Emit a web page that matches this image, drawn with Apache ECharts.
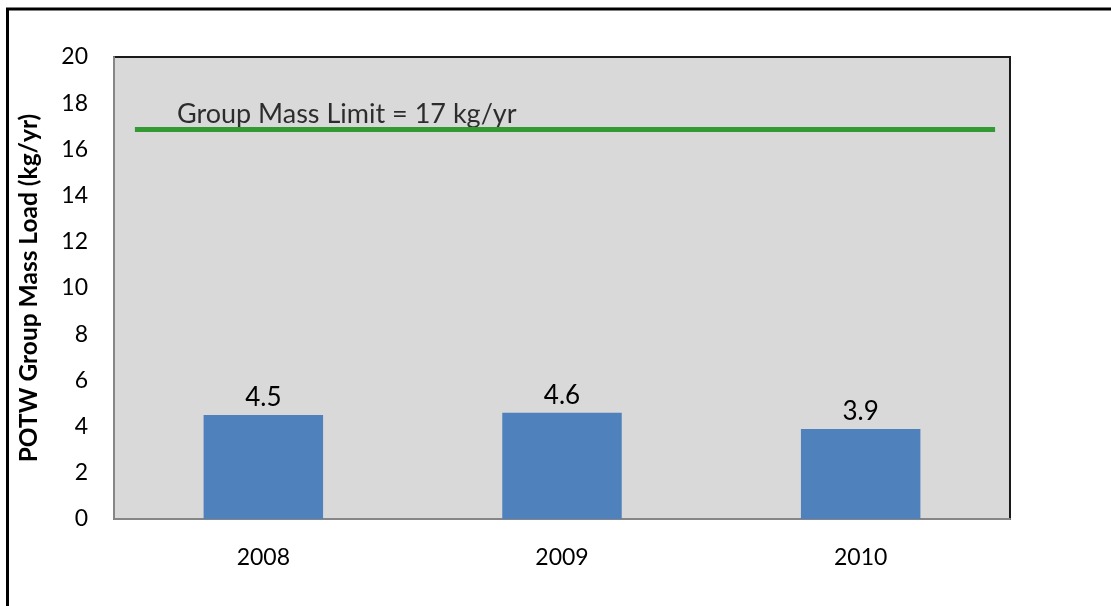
<!DOCTYPE html>
<html>
<head>
<meta charset="utf-8">
<script src="https://cdn.jsdelivr.net/npm/echarts@6/dist/echarts.min.js"></script>
<style>
html,body{margin:0;padding:0;background:#fff;}
#chart{width:1111px;height:606px;}
</style>
</head>
<body>
<div id="chart"></div>
<script>
const categories = ['2008', '2009', '2010'];
const loads = [4.5, 4.6, 3.9];
const limitValue = 16.86;
const limitSpan = [0.57, 3.45];
const limitLabel = 'Group Mass Limit = 17 kg/yr';
const yAxisName = 'POTW Group Mass Load (kg/yr)';

const FONT = 'Lato, "Open Sans", sans-serif';
const chart = echarts.init(document.getElementById('chart'));
chart.setOption({
  animation: false,
  backgroundColor: '#ffffff',
  graphic: [{
    type: 'rect', silent: true, z: 100,
    shape: { x: 7.5, y: 9, width: 1200, height: 700 },
    style: { fill: 'none', stroke: '#000', lineWidth: 3 }
  }],
  grid: {
    left: 114, top: 57, right: 101, bottom: 87,
    show: true, backgroundColor: '#d9d9d9',
    borderColor: '#1a1a1a', borderWidth: 2
  },
  xAxis: [{
    type: 'category', data: categories,
    axisLine: { lineStyle: { color: '#868686', width: 2 } },
    axisTick: { show: false },
    axisLabel: { color: '#000', fontFamily: FONT, fontSize: 23, margin: 27 },
    splitLine: { show: false }
  }, {
    type: 'value', min: 0.5, max: 3.5, show: false
  }],
  yAxis: {
    type: 'value', min: 0, max: 20, interval: 2,
    name: yAxisName, nameLocation: 'middle', nameGap: 72,
    nameTextStyle: { color: '#000', fontFamily: FONT, fontSize: 24.5, fontWeight: 'bold' },
    axisLine: { show: true, lineStyle: { color: '#868686', width: 2 } },
    axisTick: { show: false },
    axisLabel: { color: '#000', fontFamily: FONT, fontSize: 23, margin: 26 },
    splitLine: { show: false }
  },
  series: [{
    type: 'bar', data: loads, barWidth: '40%',
    itemStyle: { color: '#4f81bd' },
    label: { show: true, position: 'top', distance: 4, color: '#000', fontFamily: FONT, fontSize: 26 }
  }, {
    type: 'line', xAxisIndex: 1,
    data: limitSpan.map(x => [x, limitValue]),
    symbol: 'none',
    lineStyle: { color: '#339933', width: 5 }
  }, {
    type: 'scatter', xAxisIndex: 1,
    data: [[limitSpan[0], limitValue]],
    symbolSize: 0, silent: true,
    label: { show: true, position: 'top', align: 'left', offset: [42, 3], formatter: limitLabel,
             color: '#000', fontFamily: FONT, fontSize: 27 }
  }]
});
</script>
</body>
</html>
